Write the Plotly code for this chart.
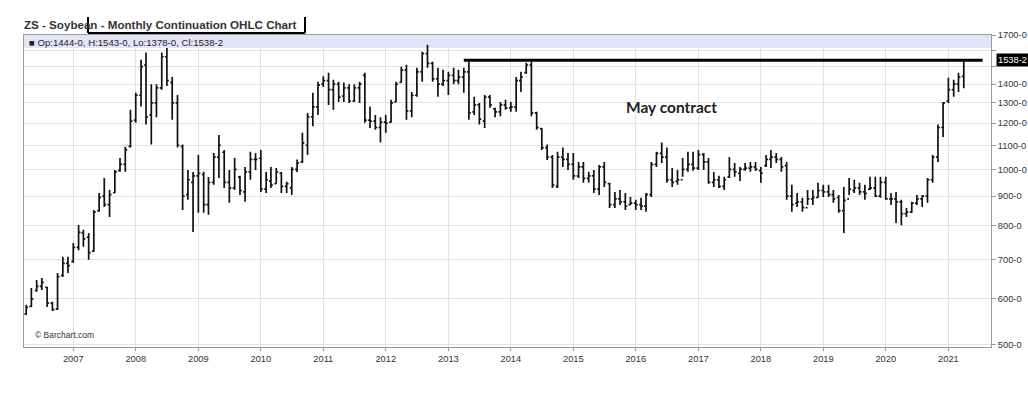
import numpy as np
import pandas as pd
import plotly.graph_objects as go

# ---------------- data (monthly OHLC, Apr 2006 - Apr 2021) ----------------
start_month = "2006-04-01"

open_px = (
    [565, 582, 620, 630, 628, 590, 576, 658, 690] +                               # 2006 Apr-Dec
    [695, 735, 778, 765, 725, 850, 900, 870, 912, 995, 1020, 1095] +               # 2007
    [1215, 1340, 1510, 1240, 1300, 1380, 1560, 1410, 1300, 1095, 905, 950] +       # 2008
    [975, 980, 870, 950, 1050, 1070, 950, 930, 970, 915, 990, 1040] +              # 2009
    [1045, 925, 955, 945, 985, 935, 930, 1000, 1030, 1100, 1230, 1280] +           # 2010
    [1400, 1420, 1370, 1400, 1335, 1380, 1310, 1380, 1450, 1215, 1210, 1180] +     # 2011
    [1205, 1205, 1305, 1410, 1480, 1260, 1340, 1470, 1580, 1520, 1430, 1400] +     # 2012
    [1420, 1450, 1420, 1440, 1470, 1255, 1290, 1210, 1330, 1270, 1255, 1290] +     # 2013
    [1275, 1280, 1420, 1465, 1510, 1250, 1175, 1090, 1050, 935, 1050, 1040] +      # 2014
    [1020, 975, 1010, 965, 975, 925, 1010, 945, 870, 890, 880, 870] +              # 2015
    [875, 870, 865, 905, 1020, 1065, 1050, 960, 955, 960, 1000, 1020] +            # 2016
    [1005, 1060, 1030, 950, 960, 935, 970, 1000, 985, 1000, 1005, 1010] +          # 2017
    [995, 1015, 1040, 1050, 1040, 1015, 900, 875, 880, 860, 890, 895] +            # 2018
    [920, 915, 905, 895, 850, 890, 920, 930, 915, 925, 930, 900] +                 # 2019
    [950, 890, 890, 880, 840, 845, 875, 890, 900, 960, 1050, 1180] +               # 2020
    [1310, 1370, 1400, 1444]                                                       # 2021 Jan-Apr
)
high_px = (
    [586, 626, 646, 651, 629, 593, 664, 708, 708] +
    [748, 803, 788, 778, 852, 911, 967, 922, 998, 1046, 1094, 1265] +
    [1353, 1541, 1586, 1400, 1400, 1586, 1615, 1440, 1342, 1103, 998, 990] +
    [1059, 991, 970, 1067, 1146, 1080, 998, 1046, 975, 1010, 1072, 1067] +
    [1080, 990, 1010, 1006, 990, 952, 1010, 1040, 1156, 1250, 1353, 1413] +
    [1445, 1464, 1424, 1413, 1409, 1400, 1400, 1413, 1464, 1280, 1240, 1229] +
    [1240, 1316, 1413, 1500, 1512, 1358, 1494, 1591, 1636, 1530, 1494, 1482] +
    [1470, 1494, 1482, 1494, 1530, 1332, 1300, 1342, 1342, 1275, 1305, 1316] +
    [1305, 1440, 1470, 1524, 1530, 1255, 1177, 1103, 1059, 1072, 1090, 1067] +
    [1067, 1030, 1030, 991, 998, 1018, 1030, 949, 915, 922, 911, 897] +
    [887, 894, 911, 1030, 1072, 1112, 1090, 1006, 998, 1046, 1072, 1072] +
    [1080, 1067, 1046, 990, 975, 971, 1050, 1026, 1010, 1026, 1030, 1030] +
    [1010, 1059, 1080, 1067, 1050, 1030, 941, 911, 894, 922, 922, 949] +
    [941, 941, 922, 904, 933, 967, 960, 949, 941, 971, 971, 971] +
    [971, 911, 915, 887, 859, 880, 904, 904, 967, 1059, 1194, 1305] +
    [1436, 1424, 1464, 1543]
)
low_px = (
    [563, 581, 617, 621, 581, 572, 574, 654, 664] +
    [692, 727, 737, 700, 722, 846, 862, 829, 911, 991, 991, 1090] +
    [1202, 1282, 1194, 1103, 1229, 1369, 1390, 1216, 1090, 852, 887, 781] +
    [843, 843, 836, 941, 967, 929, 877, 922, 904, 880, 960, 998] +
    [915, 911, 929, 945, 911, 911, 904, 990, 1026, 1059, 1186, 1240] +
    [1385, 1290, 1265, 1305, 1305, 1300, 1305, 1300, 1202, 1177, 1169, 1112] +
    [1156, 1202, 1305, 1409, 1216, 1229, 1332, 1413, 1494, 1413, 1332, 1390] +
    [1342, 1400, 1400, 1353, 1216, 1240, 1194, 1177, 1275, 1229, 1233, 1265] +
    [1255, 1255, 1358, 1459, 1233, 1169, 1080, 1038, 929, 929, 1010, 998] +
    [960, 967, 949, 949, 911, 904, 933, 859, 859, 869, 852, 869] +
    [852, 852, 846, 897, 1010, 1026, 949, 933, 941, 971, 991, 995] +
    [998, 998, 945, 933, 929, 922, 967, 971, 955, 995, 991, 995] +
    [949, 1010, 1006, 1026, 991, 887, 846, 862, 846, 869, 869, 894] +
    [897, 897, 877, 843, 778, 904, 911, 904, 887, 922, 897, 894] +
    [887, 869, 809, 802, 829, 843, 869, 862, 877, 949, 1030, 1137] +
    [1300, 1332, 1358, 1378]
)
close_px = (
    [580, 600, 630, 640, 590, 575, 655, 690, 684] +
    [735, 780, 760, 720, 845, 895, 870, 905, 990, 1020, 1080, 1210] +
    [1340, 1500, 1230, 1300, 1380, 1560, 1420, 1300, 1100, 900, 960, 975] +
    [985, 870, 950, 1050, 1100, 950, 930, 1000, 920, 990, 1040, 1040] +
    [925, 960, 940, 990, 935, 945, 1000, 1025, 1110, 1230, 1280, 1395] +
    [1420, 1370, 1400, 1330, 1380, 1310, 1380, 1400, 1215, 1210, 1180, 1205] +
    [1200, 1300, 1400, 1480, 1260, 1340, 1470, 1580, 1520, 1430, 1400, 1420] +
    [1450, 1420, 1440, 1470, 1250, 1290, 1220, 1330, 1290, 1255, 1290, 1275] +
    [1280, 1420, 1440, 1510, 1250, 1180, 1090, 1050, 940, 1050, 1040, 1020] +
    [975, 1010, 965, 975, 925, 1010, 950, 870, 890, 880, 865, 875] +
    [870, 865, 905, 1020, 1065, 1050, 960, 950, 960, 1000, 1020, 1005] +
    [1060, 1030, 950, 960, 935, 960, 1000, 990, 1000, 1005, 1010, 1000] +
    [985, 1040, 1050, 1040, 1010, 900, 870, 880, 860, 890, 895, 920] +
    [915, 905, 890, 850, 885, 925, 930, 915, 910, 930, 900, 950] +
    [890, 890, 880, 840, 845, 875, 890, 900, 960, 1050, 1180, 1300] +
    [1370, 1400, 1440, 1538.25]
)

price_ticks = [500, 600, 700, 800, 900, 1000, 1100, 1200, 1300, 1400, 1500, 1600, 1700]
unlabeled_ticks = [1500, 1600]
year_ticks = list(range(2007, 2022))

resistance_level = 1538.25
resistance_start = "2013-04-01"
resistance_end = "2021-07-20"

x_range = ["2006-03-19", "2021-09-07"]
y_range = [496, 1700]

title_text = "ZS - Soybean - Monthly Continuation OHLC Chart"
note_text = "May contract"
credit_text = "© Barchart.com"


def fmt8(v):
    whole = int(v)
    frac = int(round((v - whole) * 8))
    return f"{whole}-{frac}"


dates = pd.date_range(start_month, periods=len(open_px), freq="MS")

fig = go.Figure()
fig.add_trace(go.Ohlc(
    x=dates, open=open_px, high=high_px, low=low_px, close=close_px,
    increasing=dict(line=dict(color="#111111", width=1.7)),
    decreasing=dict(line=dict(color="#111111", width=1.7)),
    tickwidth=0.4, showlegend=False, hoverinfo="skip",
))
fig.add_trace(go.Scatter(
    x=[resistance_start, resistance_end], y=[resistance_level, resistance_level],
    mode="lines", line=dict(color="#000000", width=3), showlegend=False,
    hoverinfo="skip",
))

W, H = 1028, 393
L, R, T, B = 24, 37, 35, 46
pw, ph = W - L - R, H - T - B


def px(xp):
    return (xp - L) / pw


def py(yp):
    return (H - B - yp) / ph


font_main = "Liberation Sans, Arial, sans-serif"

fig.update_layout(
    width=W, height=H,
    margin=dict(l=L, r=R, t=T, b=B, autoexpand=False),
    paper_bgcolor="white", plot_bgcolor="white",
    showlegend=False,
    font=dict(family=font_main, size=9, color="#333333"),
)

fig.update_xaxes(
    type="date", range=x_range, rangeslider=dict(visible=False),
    automargin=False,
    tickvals=[f"{y}-01-01" for y in year_ticks],
    ticktext=[str(y) for y in year_ticks],
    showgrid=True, gridcolor="#e2e2e2", gridwidth=1,
    showline=True, linecolor="#9a9a9a", linewidth=1, mirror=True,
    ticks="outside", ticklen=3, tickcolor="#9a9a9a",
    tickfont=dict(size=9.3, color="#333333"),
    zeroline=False,
)
fig.update_yaxes(
    type="log", range=[np.log10(y_range[0]), np.log10(y_range[1])],
    side="right", automargin=False,
    tickvals=price_ticks,
    ticktext=["" if t in unlabeled_ticks else fmt8(t) for t in price_ticks],
    showgrid=True, gridcolor="#e2e2e2", gridwidth=1,
    showline=True, linecolor="#9a9a9a", linewidth=1, mirror=True,
    ticks="outside", ticklen=4, tickcolor="#9a9a9a",
    tickfont=dict(size=9.3, color="#333333"),
    zeroline=False,
)

shapes = [
    # header band inside plot
    dict(type="rect", xref="paper", yref="paper", x0=0, x1=1, y0=py(48), y1=1,
         fillcolor="#e4e4f8", line=dict(width=0), layer="below"),
    # bracket box around title
    dict(type="line", xref="paper", yref="paper", x0=px(88), x1=px(88), y0=py(17), y1=py(33),
         line=dict(color="#000000", width=2)),
    dict(type="line", xref="paper", yref="paper", x0=px(88), x1=px(305), y0=py(33), y1=py(33),
         line=dict(color="#000000", width=2)),
    dict(type="line", xref="paper", yref="paper", x0=px(305), x1=px(305), y0=py(17), y1=py(33),
         line=dict(color="#000000", width=2)),
]
fig.update_layout(shapes=shapes)

last_o, last_h, last_l, last_c = open_px[-1], high_px[-1], low_px[-1], close_px[-1]
header_text = (f"■ Op:{fmt8(last_o)}, H:{fmt8(last_h)}, "
               f"Lo:{fmt8(last_l)}, Cl:{fmt8(last_c)}")

annotations = [
    dict(text=f"<b>{title_text}</b>", xref="paper", yref="paper", x=px(22), y=py(25),
         xanchor="left", yanchor="middle", showarrow=False,
         font=dict(family=font_main, size=11.6, color="#333333")),
    dict(text=header_text, xref="paper", yref="paper", x=px(27), y=py(42),
         xanchor="left", yanchor="middle", showarrow=False,
         font=dict(family=font_main, size=9.6, color="#222222")),
    dict(text=f"<b>{note_text}</b>", xref="paper", yref="paper", x=px(671), y=py(107),
         xanchor="center", yanchor="middle", showarrow=False,
         font=dict(family="Lato, Open Sans, sans-serif", size=15.5, color="#222222")),
    dict(text=credit_text, xref="paper", yref="paper", x=px(33), y=py(335),
         xanchor="left", yanchor="middle", showarrow=False,
         font=dict(family=font_main, size=8.5, color="#333333")),
    dict(text=fmt8(last_c), xref="paper", yref="y", x=px(996),
         y=np.log10(last_c), xanchor="left", yanchor="middle", showarrow=False,
         bgcolor="#000000", borderpad=1,
         font=dict(family=font_main, size=9.3, color="#ffffff")),
]
fig.update_layout(annotations=annotations)

fig.write_html(
    "out.html",
    config={"displayModeBar": False, "responsive": False},
    post_script="document.body.style.margin='0';document.body.style.overflow='hidden';",
)
